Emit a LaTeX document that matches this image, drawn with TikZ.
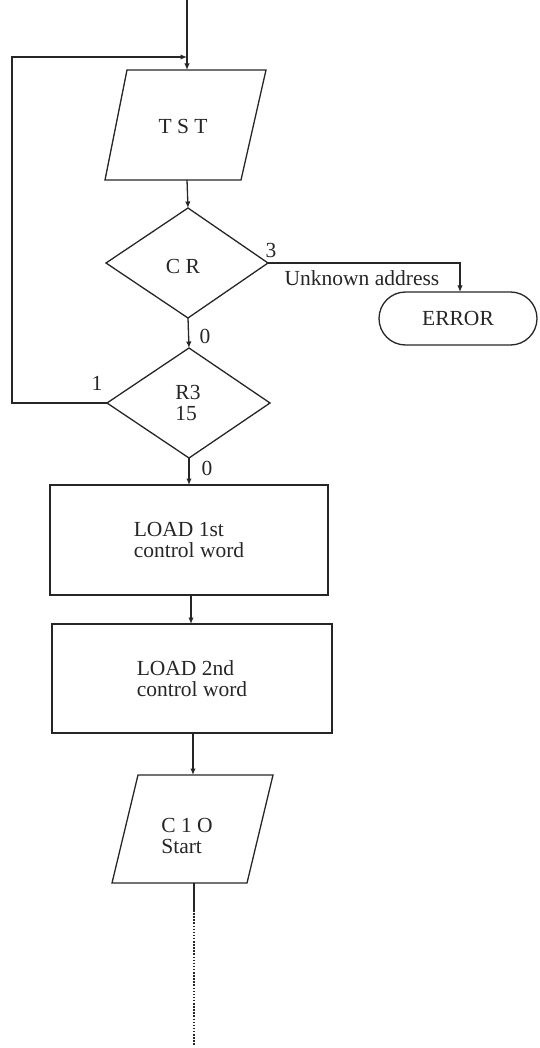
\documentclass[tikz,border=0pt]{standalone}
\usepackage{fontspec}
\setmainfont{Liberation Serif}
\usetikzlibrary{arrows.meta,shapes.misc}
\begin{document}
\begin{tikzpicture}[x=1pt,y=-1pt,
  line/.style={line width=1.3pt, draw=black!85},
  arr/.style={line, -{Latex[length=6.5pt,width=5.5pt]}},
  txt/.style={font=\fontsize{21.5}{20.5}\selectfont, text=black!85},
  lbl/.style={txt, inner sep=0pt, align=left},
  procbox/.style={line, txt, minimum width=278pt, minimum height=110pt, inner sep=0pt, outer sep=0pt, align=left},
  termbox/.style={line, txt, rounded rectangle, minimum width=158pt, minimum height=53pt, inner sep=0pt, outer sep=0pt}
]
\useasboundingbox (0,0) rectangle (540,1048);

% TST parallelogram
\coordinate (tstA) at (127,70);
\coordinate (tstB) at (266,70);
\coordinate (tstC) at (241,180);
\coordinate (tstD) at (105,180);
\draw[line] (tstA) -- (tstB) -- (tstC) -- (tstD) -- cycle;
\node[lbl] (tst) at (183,126) {T S T};
\coordinate (tst-in) at (187,70);
\coordinate (tst-out) at (187,180);
\coordinate (start) at (187,0);

% CR diamond
\coordinate (cr-t) at (188,208);
\coordinate (cr-r) at (268,263);
\coordinate (cr-b) at (188,318);
\coordinate (cr-l) at (106,263);
\draw[line] (cr-t) -- (cr-r) -- (cr-b) -- (cr-l) -- cycle;
\node[lbl] (cr) at (183,266) {C R};

% R3 diamond
\coordinate (r3-t) at (189,348);
\coordinate (r3-r) at (270,403);
\coordinate (r3-b) at (189,458);
\coordinate (r3-l) at (107,403);
\draw[line] (r3-t) -- (r3-r) -- (r3-b) -- (r3-l) -- cycle;
\node[lbl] (r3) at (188,403) {R3\\15};

% ERROR terminal
\node[termbox] (err) at (458,318.5) {ERROR};

% boxes
\node[procbox, minimum width=278pt, minimum height=110pt] (box1) at (189,540) {LOAD 1st\\control word};
\node[procbox, minimum width=280pt, minimum height=109pt] (box2) at (192,678.5) {LOAD 2nd\\control word};

% C1O parallelogram
\coordinate (cioA) at (138,775);
\coordinate (cioB) at (273,775);
\coordinate (cioC) at (247,883);
\coordinate (cioD) at (112,883);
\draw[line] (cioA) -- (cioB) -- (cioC) -- (cioD) -- cycle;
\node[lbl] (cio) at (187,836) {C 1 O\\Start};

% connectors
\draw[arr] (start) -- (tst-in);
\coordinate (fb-b) at (12,403);
\coordinate (fb-t) at (12,57);
\coordinate (fb-e) at (187,57);
\draw[arr] (r3-l) -- (fb-b) -- (fb-t) -- (fb-e);
\draw[arr] (tst-out) -- (cr-t);
\coordinate (errturn) at (460,263);
\draw[arr] (cr-r) -- (errturn) -- (errturn |- err.north);
\draw[arr] (cr-b) -- (r3-t);
\draw[arr] (r3-b) -- (r3-b |- box1.north);
\coordinate (b1out) at (191,595);
\draw[arr] (b1out) -- (b1out |- box2.north);
\coordinate (b2out) at (193,733);
\coordinate (cio-in) at (193,775);
\draw[arr] (b2out) -- (cio-in);
\coordinate (cio-out) at (194,883);
\coordinate (dotstart) at (194,910);
\coordinate (dotend) at (194,1045);
\draw[line] (cio-out) -- (dotstart);
\draw[line, line width=1.4pt, dash pattern=on 1.5pt off 1.6pt] (dotstart) -- (dotend);

% labels
\node[lbl] (l3) at (271,250) {3};
\node[lbl] (lua) at (362,278) {Unknown address};
\node[lbl] (l0a) at (205,336) {0};
\node[lbl] (l1) at (97,383) {1};
\node[lbl] (l0b) at (207,468) {0};
\end{tikzpicture}
\end{document}
